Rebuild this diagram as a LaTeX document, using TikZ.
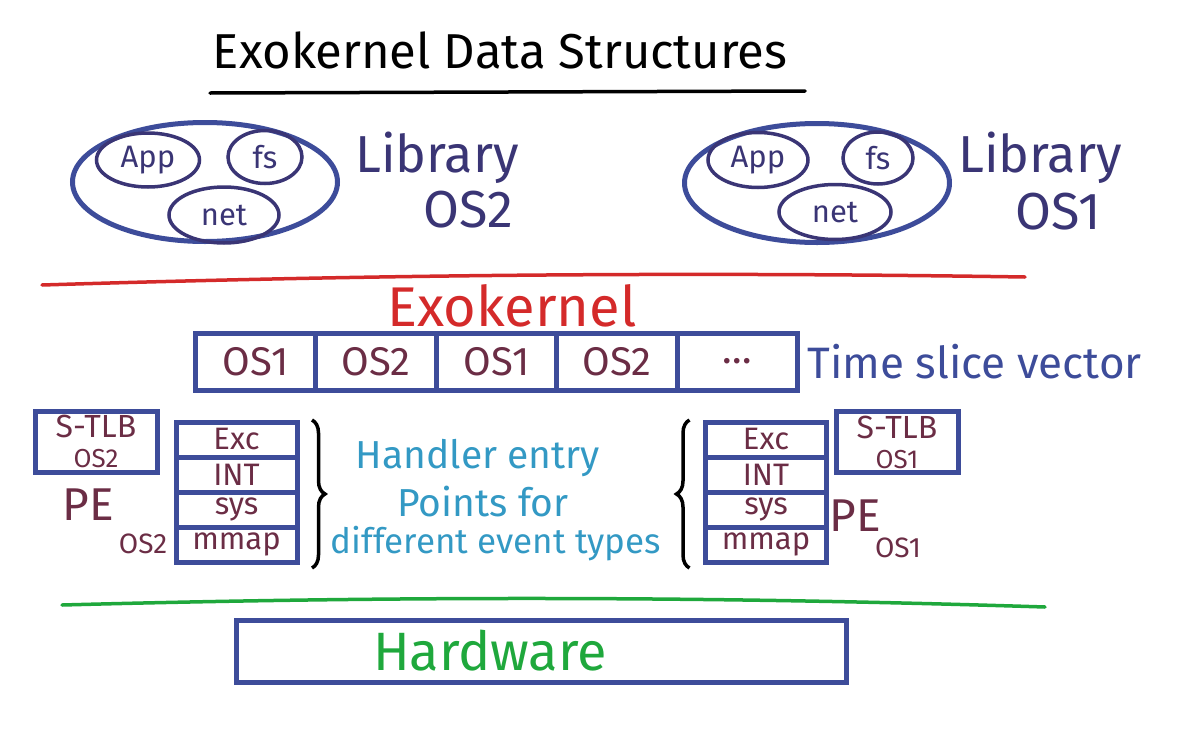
\documentclass[tikz,border=0pt]{standalone}
\usepackage{fontspec}
\setmainfont{Fira Sans}
\usetikzlibrary{shapes.geometric,positioning,decorations.pathreplacing}

\definecolor{inkblue}{HTML}{3D4C9A}
\definecolor{inknavy}{HTML}{3A3575}
\definecolor{inkmaroon}{HTML}{6B2D45}
\definecolor{inkred}{HTML}{D42A2A}
\definecolor{inkgreen}{HTML}{1FA83C}
\definecolor{inkcyan}{HTML}{3399C4}

\newcommand{\fsz}[1]{\fontsize{#1}{#1}\selectfont}

\begin{document}
\begin{tikzpicture}[
  x=1pt, y=-1pt,
  bigell/.style={
    ellipse, draw=inkblue, line width=5pt,
    minimum width=265pt, minimum height=119pt
  },
  modell/.style={
    ellipse, draw=inknavy, line width=3.5pt,
    text=inknavy, font=\fsz{31}, inner sep=0pt
  },
  slot/.style={
    rectangle, draw=inkblue, line width=5pt, outer sep=0pt,
    minimum width=120.5pt, minimum height=57pt,
    text=inkmaroon, font=\fsz{40}
  },
  entry/.style={
    rectangle, draw=inkblue, line width=5pt, outer sep=0pt,
    minimum width=121pt, minimum height=35pt,
    text=inkmaroon, font=\fsz{31}
  },
  tlb/.style={
    rectangle, draw=inkblue, line width=5pt,
    minimum width=122pt, minimum height=61pt, inner sep=1pt,
    text=inkmaroon, align=center, font=\fontsize{32}{30}\selectfont
  },
  libtxt/.style={text=inknavy, font=\fsz{52}},
  petxt/.style={text=inkmaroon, font=\fsz{46}},
  subtxt/.style={text=inkmaroon, font=\fsz{28}},
  notetxt/.style={text=inkcyan, font=\fsz{39}},
  rule/.style={line width=3.5pt, line cap=round},
  curly/.style={decorate, decoration={brace, amplitude=13pt}, draw=black, line width=3.5pt},
]
\useasboundingbox (0,0) rectangle (1187,742);

%% ── Title ────────────────────────────────────────────────────────
\node[font=\fsz{49}] (title) at (500,50) {Exokernel Data Structures};
\draw[rule, black] (210,93) -- (805,91);

%% ── Library OS2 (left) ───────────────────────────────────────────
\node[bigell] (lib2) at (205,182) {};
\node[modell, minimum width=103pt, minimum height=54pt] (app2) at (148,160) {App};
\node[modell, minimum width=74pt,  minimum height=53pt] (fs2)  at (265,157) {fs};
\node[modell, minimum width=110pt, minimum height=56pt] (net2) at (224,215) {net};
\node[libtxt] (libname2) at (437,158) {Library};
\node[libtxt] (osname2)  at (468,210) {OS2};

%% ── Library OS1 (right) ──────────────────────────────────────────
\node[bigell] (lib1) at (817,183) {};
\node[modell, minimum width=100pt, minimum height=55pt] (app1) at (758,160) {App};
\node[modell, minimum width=70pt,  minimum height=52pt] (fs1)  at (878,158) {fs};
\node[modell, minimum width=112pt, minimum height=55pt] (net1) at (835,212) {net};
\node[libtxt] (libname1) at (1040,158) {Library};
\node[libtxt] (osname1)  at (1058,212) {OS1};

%% ── Exokernel ────────────────────────────────────────────────────
\draw[rule, inkred] (42,285) .. controls (400,274) and (700,272) .. (1025,277);
\node[text=inkred, font=\fsz{56}] (exo) at (512,306) {Exokernel};

%% ── Time slice vector ────────────────────────────────────────────
\node[slot]                  (ts1) at (255.5,361.5) {OS1};
\node[slot, right=0pt of ts1] (ts2) {OS2};
\node[slot, right=0pt of ts2] (ts3) {OS1};
\node[slot, right=0pt of ts3] (ts4) {OS2};
\node[slot, right=0pt of ts4] (ts5) {\dots};
\node[text=inkblue, font=\fsz{44}, right=6pt of ts5] (tsname) {Time slice vector};

%% ── PE of OS2 (left) ─────────────────────────────────────────────
\node[tlb] (tlb2) at (96,441.5) {S-TLB\\{\fsz{26}OS2}};
\node[entry]                   (exc2)  at (236.5,439.5) {Exc};
\node[entry, below=0pt of exc2] (int2)  {INT};
\node[entry, below=0pt of int2] (sys2)  {sys};
\node[entry, below=0pt of sys2] (mmap2) {mmap};
\node[petxt]  (pe2)   at (88,505)  {PE};
\node[subtxt] (pesub2) at (143,544) {OS2};

%% ── PE of OS1 (right) ────────────────────────────────────────────
\node[tlb] (tlb1) at (897,442) {S-TLB\\{\fsz{26}OS1}};
\node[entry]                   (exc1)  at (766,439.5) {Exc};
\node[entry, below=0pt of exc1] (int1)  {INT};
\node[entry, below=0pt of int1] (sys1)  {sys};
\node[entry, below=0pt of sys1] (mmap1) {mmap};
\node[petxt]  (pe1)   at (855,516) {PE};
\node[subtxt] (pesub1) at (898,548) {OS1};

%% ── Braces and note ──────────────────────────────────────────────
\draw[curly] ([xshift=15pt,yshift=2pt]exc2.north east) -- ([xshift=15pt,yshift=-6pt]mmap2.south east);
\draw[curly] ([xshift=-16pt,yshift=-6pt]mmap1.south west) -- ([xshift=-16pt,yshift=2pt]exc1.north west);
\node[notetxt] (note1) at (478,458) {Handler entry};
\node[notetxt] (note2) at (483,502) {Points for};
\node[notetxt, font=\fsz{35}] (note3) at (496,544) {different event types};

%% ── Hardware ─────────────────────────────────────────────────────
\draw[rule, inkgreen] (62,605) .. controls (400,596) and (700,596) .. (1045,607);
\node[rectangle, draw=inkblue, line width=5pt,
      minimum width=610pt, minimum height=62pt] (hw) at (541,651) {};
\node[text=inkgreen, font=\fsz{54}] (hwname) at (490,651) {Hardware};

\end{tikzpicture}
\end{document}
